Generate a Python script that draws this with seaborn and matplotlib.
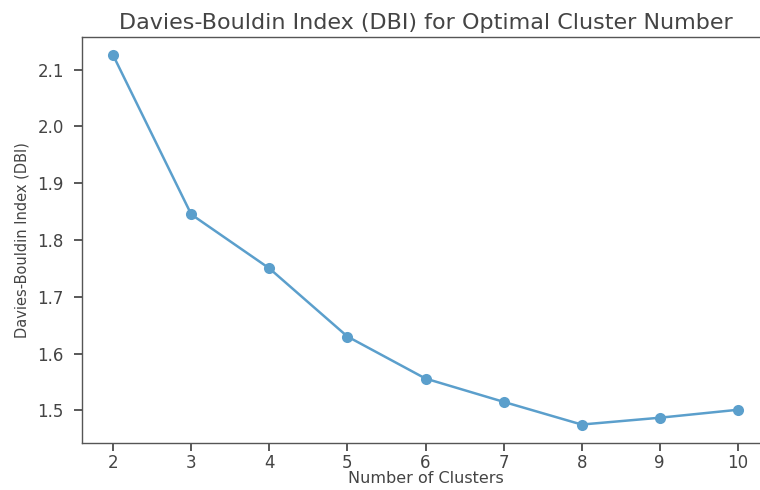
import pandas as pd
import matplotlib.pyplot as plt
import seaborn as sns

# Davies-Bouldin index per number of clusters
clusters = [2, 3, 4, 5, 6, 7, 8, 9, 10]
dbi = [2.125, 1.845, 1.750, 1.630, 1.556, 1.515, 1.475, 1.487, 1.501]

df = pd.DataFrame({'clusters': clusters, 'dbi': dbi})

sns.set_theme(style='ticks')
plt.rcParams['font.family'] = ['DejaVu Sans']
text_col = '#444444'

fig = plt.figure(figsize=(7.6, 4.9), dpi=100)
# the original picture is cropped on the right, so the axes run past the edge
ax = fig.add_axes([82 / 760, 1 - 443 / 490, (769 - 82) / 760, (443 - 37) / 490])

sns.lineplot(data=df, x='clusters', y='dbi', marker='o', color='#5b9fcc',
             linewidth=1.8, markersize=8, markeredgewidth=0, ax=ax)

ax.set_xticks(clusters)
ax.set_yticks([1.5, 1.6, 1.7, 1.8, 1.9, 2.0, 2.1])
ax.set_title('Davies-Bouldin Index (DBI) for Optimal Cluster Number',
             fontsize=16, color=text_col, pad=6)
ax.set_xlabel('Number of Clusters', fontsize=11.5, color=text_col, labelpad=-1)
ax.set_ylabel('Davies-Bouldin Index (DBI)', fontsize=10.5, color=text_col, labelpad=6)
ax.tick_params(colors=text_col, labelsize=12)
ax.tick_params(axis='x', pad=2)
ax.tick_params(axis='y', pad=7)
ax.spines['right'].set_visible(False)
for s in ax.spines.values():
    s.set_color('#555555')
    s.set_linewidth(1.0)

fig.savefig('out.png', dpi=100)
